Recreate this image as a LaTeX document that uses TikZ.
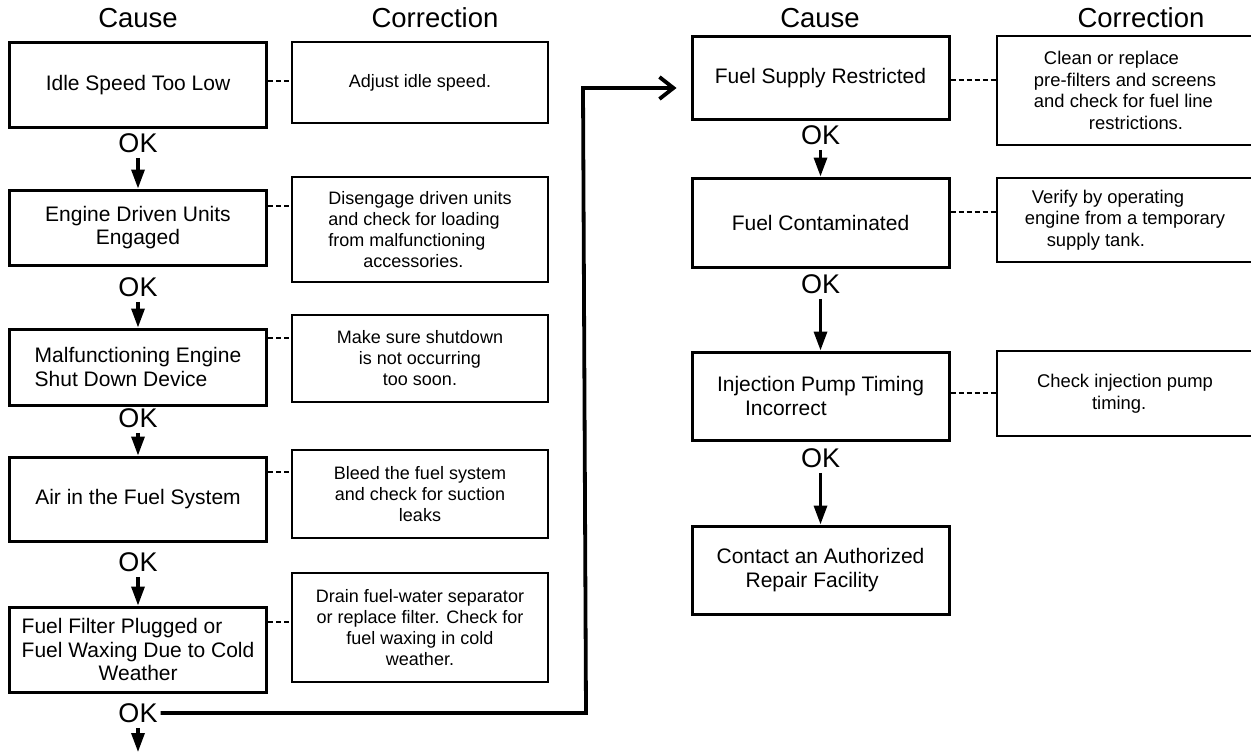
\documentclass[tikz,border=0pt]{standalone}
\usepackage{fontspec}
\setmainfont{Liberation Sans}
\usetikzlibrary{arrows.meta}
\newcommand\causefnt{\fontsize{21}{23.5}\selectfont}
\newcommand\corrfnt{\fontsize{18}{21}\selectfont}
\newcommand\rcorrfnt{\fontsize{18.4}{21.5}\selectfont}
\newcommand\headfnt{\fontsize{27.5}{31}\selectfont}
\newcommand\okfnt{\fontsize{27}{30}\selectfont}
\begin{document}
\begin{tikzpicture}[x=1pt,y=-1pt,
  causebox/.style={draw, line width=3pt, minimum width=257pt, inner sep=0pt, font=\causefnt, align=center},
  corrbox/.style={draw, line width=2.1pt, minimum width=256pt, inner sep=0pt, font=\corrfnt, align=center},
  hdr/.style={font=\headfnt, inner sep=0pt},
  oklbl/.style={font=\okfnt, inner sep=0pt},
  dashlink/.style={line width=2pt, dash pattern=on 5pt off 3pt},
  downarr/.style={line width=3.3pt, shorten <=5pt, -{Triangle[length=19pt,width=13pt]}},
  bigarr/.style={line width=3.8pt, line join=miter, shorten >=14pt, -{Straight Barb[length=14pt,width=22pt]}}
]
\fill[white] (0,0) rectangle (1251,752);
\useasboundingbox (0,0) rectangle (1251,752);

% headers
\node[hdr] (hc1) at (138,18) {Cause};
\node[hdr] (hk1) at (435,18) {Correction};
\node[hdr] (hc2) at (820,18) {Cause};
\node[hdr] (hk2) at (1141,18) {Correction};

% left column
\node[causebox, minimum height=84pt] (b1) at (138,85) {Idle Speed Too Low};
\node[corrbox, minimum height=81pt] (c1) at (420,82.5) {Adjust idle speed.};
\node[causebox, minimum height=75pt] (b2) at (138,227.5) {Engine Driven Units\\Engaged};
\node[corrbox, minimum height=105pt, align=left] (c2) at (420,229.5) {Disengage driven units\\and check for loading\\from malfunctioning\\\hspace*{35pt}accessories.};
\node[causebox, minimum height=76pt, align=left] (b3) at (138,367) {Malfunctioning Engine\\Shut Down Device};
\node[corrbox, minimum height=87pt] (c3) at (420,358.5) {Make sure shutdown\\is not occurring\\too soon.};
\node[causebox, minimum height=84pt] (b4) at (138,499) {Air in the Fuel System};
\node[corrbox, minimum height=88pt] (c4) at (420,494) {Bleed the fuel system\\and check for suction\\leaks};
\node[causebox, minimum height=85pt, align=left] (b5) at (138,649.5) {Fuel Filter Plugged or\\Fuel Waxing Due to Cold\\\hspace*{77pt}Weather};
\node[corrbox, minimum height=109pt] (c5) at (420,627.5) {Drain fuel-water separator\\or replace filter. Check for\\fuel waxing in cold\\weather.};

% right column
\node[causebox, minimum height=82pt] (r1) at (820.5,78) {Fuel Supply Restricted};
\node[corrbox, font=\rcorrfnt, align=left, minimum height=109pt] (k1) at (1125,90.5) {\hspace*{10pt}Clean or replace\\pre-filters and screens\\and check for fuel line\\\hspace*{55pt}restrictions.};
\node[causebox, minimum height=89pt] (r2) at (820.5,222.5) {Fuel Contaminated};
\node[corrbox, font=\rcorrfnt, align=left, minimum height=84pt] (k2) at (1125,220) {\hspace*{7pt}Verify by operating\\engine from a temporary\\\hspace*{22pt}supply tank.};
\node[causebox, minimum height=88pt, align=left] (r3) at (820.5,396) {Injection Pump Timing\\\hspace*{28pt}Incorrect};
\node[corrbox, font=\rcorrfnt, align=left, minimum height=85pt] (k3) at (1125,393.5) {Check injection pump\\\hspace*{55pt}timing.};
\node[causebox, minimum height=88pt, align=left] (r4) at (820.5,570) {Contact an Authorized\\\hspace*{29pt}Repair Facility};

% OK labels
\node[oklbl] (ok1) at (138,143) {OK};
\node[oklbl] (ok2) at (138,287) {OK};
\node[oklbl] (ok3) at (138,418) {OK};
\node[oklbl] (ok4) at (138,562) {OK};
\node[oklbl] (ok5) at (138,713) {OK};
\node[oklbl] (okr1) at (820.5,135) {OK};
\node[oklbl] (okr2) at (820.5,284) {OK};
\node[oklbl] (okr3) at (820.5,458) {OK};

% dashed links
\coordinate (d1) at (b1.east |- 0,81);
\coordinate (d2) at (b2.east |- 0,206);
\coordinate (d3) at (b3.east |- 0,338);
\coordinate (d4) at (b4.east |- 0,472);
\coordinate (d5) at (b5.east |- 0,622);
\coordinate (e1) at (r1.east |- 0,80);
\coordinate (e2) at (r2.east |- 0,212);
\coordinate (e3) at (r3.east |- 0,393);
\draw[dashlink] (d1) -- (d1 -| c1.west);
\draw[dashlink] (d2) -- (d2 -| c2.west);
\draw[dashlink] (d3) -- (d3 -| c3.west);
\draw[dashlink] (d4) -- (d4 -| c4.west);
\draw[dashlink] (d5) -- (d5 -| c5.west);
\draw[dashlink] (e1) -- (e1 -| k1.west);
\draw[dashlink] (e2) -- (e2 -| k2.west);
\draw[dashlink] (e3) -- (e3 -| k3.west);

% down arrows
\draw[downarr] (ok1.south) -- (ok1.south |- b2.north);
\draw[downarr] (ok2.south) -- (ok2.south |- b3.north);
\draw[downarr] (ok3.south) -- (ok3.south |- b4.north);
\draw[downarr] (ok4.south) -- (ok4.south |- b5.north);
\coordinate (bottomend) at (138,752);
\draw[downarr] (ok5.south) -- (bottomend);
\draw[downarr] (okr1.south) -- (okr1.south |- r2.north);
\draw[downarr] (okr2.south) -- (okr2.south |- r3.north);
\draw[downarr] (okr3.south) -- (okr3.south |- r4.north);

% big connector
\coordinate (turnT) at (583,88);
\draw[bigarr] ([xshift=3pt]ok5.east) -- ([xshift=3pt]ok5.east -| turnT) -- (turnT) -- (turnT -| r1.west);
\end{tikzpicture}
\end{document}
